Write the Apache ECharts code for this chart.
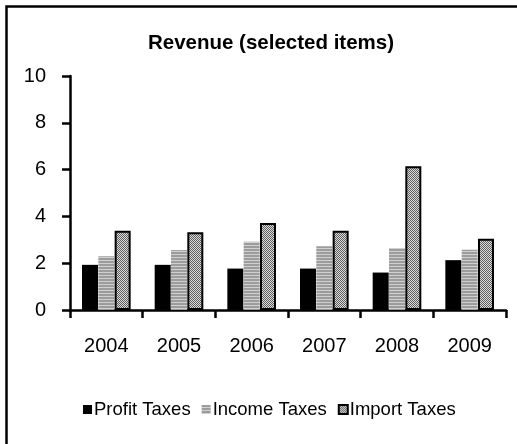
<!DOCTYPE html>
<html>
<head>
<meta charset="utf-8">
<script src="https://cdn.jsdelivr.net/npm/echarts@6/dist/echarts.min.js"></script>
<style>
  html, body { margin: 0; padding: 0; background: #fff; }
  #chart { width: 517px; height: 444px; }
</style>
</head>
<body>
<div id="chart"></div>
<script>
// Revenue by year, three tax items
const years = ['2004', '2005', '2006', '2007', '2008', '2009'];
const profitTaxes = [1.93, 1.93, 1.77, 1.77, 1.60, 2.13];
const incomeTaxes = [2.30, 2.56, 2.92, 2.72, 2.65, 2.58];
const importTaxes = [3.39, 3.32, 3.72, 3.39, 6.14, 3.05];
const yTicks = { min: 0, max: 10, step: 2 };

// Horizontal stripe fill for the income bars
function stripeFill() {
  const c = document.createElement('canvas');
  c.width = 4; c.height = 3;
  const g = c.getContext('2d');
  g.fillStyle = '#9c9c9c'; g.fillRect(0, 0, 4, 3);
  g.fillStyle = '#d0d0d0'; g.fillRect(0, 2, 4, 1);
  return c;
}
// Fine checker dot fill for the import bars
function dotFill() {
  const c = document.createElement('canvas');
  c.width = 2; c.height = 2;
  const g = c.getContext('2d');
  g.fillStyle = '#dcdcdc'; g.fillRect(0, 0, 2, 2);
  g.fillStyle = '#5e5e5e'; g.fillRect(0, 0, 1, 1); g.fillRect(1, 1, 1, 1);
  return c;
}

const font = 'Arial, "Liberation Sans", sans-serif';
const chart = echarts.init(document.getElementById('chart'), null, { renderer: 'canvas' });
chart.setOption({
  animation: false,
  backgroundColor: '#fff',
  title: {
    text: 'Revenue (selected items)',
    left: 266, top: 28, textAlign: 'center',
    textStyle: { fontFamily: font, fontSize: 20.5, fontWeight: 'bold', color: '#000' }
  },
  legend: {
    left: 78, top: 395,
    icon: 'rect', itemWidth: 9, itemHeight: 9, itemGap: 11,
    textStyle: { fontFamily: font, fontSize: 18.5, color: '#000', padding: [0, 0, 0, -3] },
    data: ['Profit Taxes', 'Income Taxes', 'Import Taxes']
  },
  grid: { left: 70, right: 11, top: 76, bottom: 134, containLabel: false },
  xAxis: {
    type: 'category', data: years,
    axisLine: { lineStyle: { color: '#000', width: 2.5 } },
    axisTick: { show: true, length: 8, lineStyle: { color: '#000', width: 2.5 } },
    axisLabel: { fontFamily: font, fontSize: 20, color: '#000', margin: 26 }
  },
  yAxis: {
    type: 'value', min: yTicks.min, max: yTicks.max, interval: yTicks.step,
    axisLine: { show: true, lineStyle: { color: '#000', width: 2.5 } },
    axisTick: { show: true, length: 8, lineStyle: { color: '#000', width: 2.5 } },
    axisLabel: { fontFamily: font, fontSize: 20, color: '#000', margin: 24 },
    splitLine: { show: false }
  },
  series: [
    { name: 'Profit Taxes', type: 'bar', data: profitTaxes, barWidth: 16, barGap: '2%',
      itemStyle: { color: '#000' } },
    { name: 'Income Taxes', type: 'bar', data: incomeTaxes, barWidth: 16, barGap: '2%',
      itemStyle: { color: { image: stripeFill(), repeat: 'repeat' } } },
    { name: 'Import Taxes', type: 'bar', data: importTaxes, barWidth: 16, barGap: '2%',
      itemStyle: { color: { image: dotFill(), repeat: 'repeat' }, borderColor: '#000', borderWidth: 2 } }
  ],
  graphic: [{
    type: 'rect', silent: true, z: 100,
    shape: { x: 6.5, y: 6.5, width: 530, height: 460 },
    style: { fill: 'none', stroke: '#000', lineWidth: 2.5 }
  }]
});
</script>
</body>
</html>
